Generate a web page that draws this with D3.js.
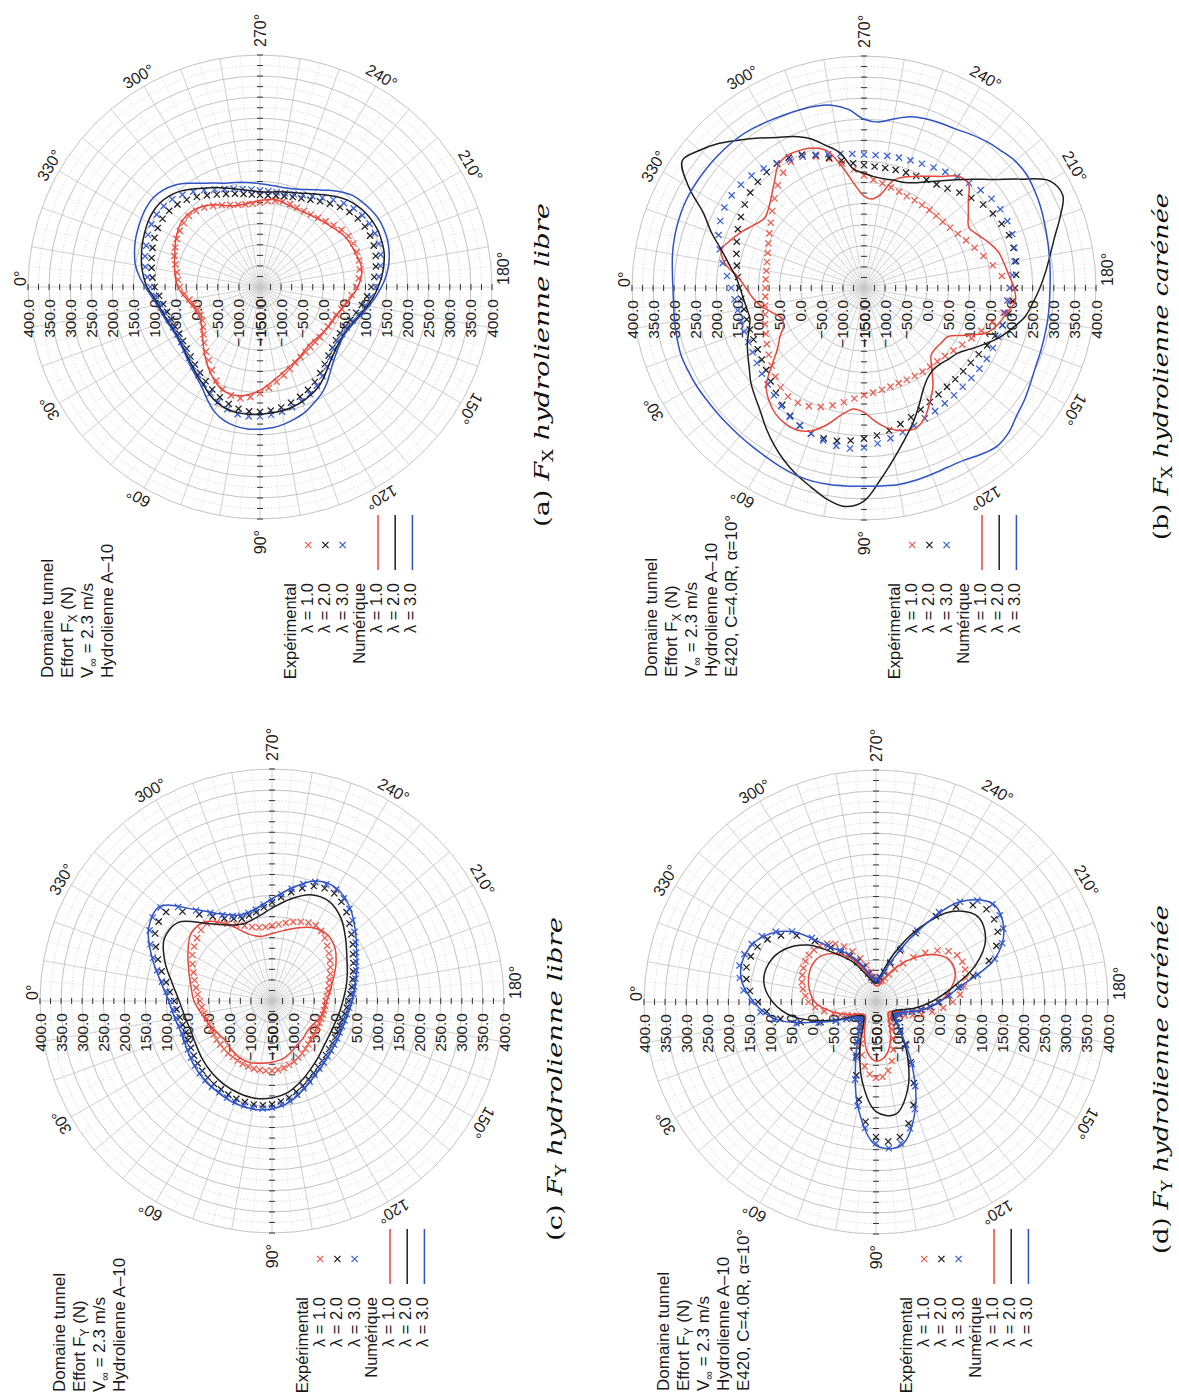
<!DOCTYPE html>
<html><head><meta charset="utf-8">
<script src="https://cdn.jsdelivr.net/npm/d3@7"></script>
<style>body{margin:0;background:#fff}svg{display:block}</style>
</head><body>
<svg id="chart" width="1179" height="1398"></svg>
<script>
// ---------- radial / angular axes ----------
const radialDomain = [-150, 400];
const ringValues = [-125,-100,-75,-50,-25,0,25,50,75,100,125,150,175,200,225,250,275,300,325,350,375,400];
const radialLabelValues = [-150,-100,-50,0,50,100,150,200,250,300,350,400];
const angleLabelValues = [0,30,60,90,120,150,180,210,240,270,300,330];
const legendExpLabels = ["λ = 1.0","λ = 2.0","λ = 3.0"];
const legendNumLabels = ["λ = 1.0","λ = 2.0","λ = 3.0"];

// ---------- data : values (N), i-th value at i*360/n degrees ----------
// (a) Fx hydrolienne libre
const aExp1 = [40,30,20,13,8,6,8,15,25,37,50,62,78,95,108,116,118,112,102,90,78,67,57,48,42,38,36,35,35,35,36,38,42,50,58,68,78,85,90,93,94,94,92,86,78,70,64,60,58,58,59,60,58,54,50,48,49,52,57,64,72,80,86,88,86,82,78,72,66,58,50,45];
const aExp2 = [100,90,83,78,74,72,71,73,77,83,90,98,108,118,128,137,143,146,146,144,140,134,127,119,110,99,89,80,74,70,69,72,78,86,95,105,114,122,129,134,137,138,137,133,127,118,108,98,89,82,77,73,70,68,68,70,74,79,85,92,101,111,120,127,131,132,130,126,121,116,111,106];
const aExp3 = [110,98,90,84,80,77,76,78,82,88,96,105,116,128,140,150,156,158,157,154,150,145,138,130,120,108,96,86,79,75,74,77,84,93,103,114,124,133,140,146,150,151,150,146,140,131,120,108,98,90,84,80,78,78,79,82,86,91,97,105,115,126,136,144,148,149,147,143,137,132,126,118];
const aNum1 = [45,25,12,12,28,55,85,110,112,95,70,52,40,30,32,38,44,60,82,95,90,85,72,62,55,55,60,55,50,55,75,90,92,80,65,55];
const aNum2 = [118,104,95,88,84,80,78,80,84,90,98,108,118,132,143,150,153,153,152,150,148,145,140,133,125,113,100,90,83,79,78,81,88,97,108,120,130,140,148,155,158,160,159,156,150,142,130,117,105,95,88,83,79,76,76,79,84,91,100,110,120,133,146,155,160,160,157,152,147,141,135,127];
const aNum3 = [122,108,98,91,86,82,80,82,86,93,102,112,125,145,165,178,185,188,187,185,180,173,165,153,142,127,110,97,88,82,80,83,90,100,112,125,138,150,160,167,172,174,174,170,165,158,145,130,116,105,97,93,92,93,95,98,102,106,112,122,134,150,165,175,180,179,175,170,165,158,150,137];

// (b) Fx hydrolienne carénée
const bExp1 = [84,85,88,93,100,107,116,126,136,147,158,164,164,159,150,138,125,113,104,99,95,92,90,90,91,92,94,96,101,109,119,131,146,165,186,196,195,178,160,143,129,117,107,99,94,92,91,90,90,90,93,97,102,108,117,132,150,167,182,194,196,184,168,150,134,120,109,100,93,88,85,84];
const bExp2 = [146,142,139,138,138,139,141,146,153,163,175,188,200,210,217,219,218,213,207,201,193,184,176,168,162,158,156,156,157,159,164,172,181,190,198,204,208,212,216,217,216,210,203,195,182,170,158,150,146,143,141,140,139,139,141,147,157,170,185,199,207,210,209,206,202,195,187,180,171,163,156,150];
const bExp3 = [165,158,154,152,152,153,155,160,166,173,182,192,202,210,217,224,230,232,228,220,212,204,197,191,187,184,182,181,182,184,186,187,188,189,189,191,196,203,212,219,224,225,223,219,211,202,194,186,180,175,172,170,168,166,166,169,173,178,186,194,202,211,220,227,231,233,232,226,217,204,190,176];
const bNum1 = [130,115,98,75,58,60,80,100,135,178,200,215,222,222,210,185,155,138,145,168,188,200,205,190,162,135,100,75,72,75,80,115,160,180,193,210,206,195,187,180,165,148,137,152,173,200,196,173,156,142,130,113,75,62,68,95,140,186,203,210,213,205,180,160,145,138,150,168,185,200,185,150];
const bNum2 = [144,137,132,130,140,155,168,182,200,215,232,255,278,300,320,338,358,370,355,305,260,222,190,158,130,112,104,105,112,120,140,165,192,215,238,252,267,282,298,318,345,370,358,300,250,215,185,160,140,125,117,115,113,115,122,133,175,200,227,246,262,284,308,335,358,376,330,270,235,200,175,155];
const bNum3 = [303,303,306,309,312,311,310,308,307,307,308,310,313,318,322,324,323,321,320,321,323,322,320,319,322,332,340,335,322,314,305,298,295,293,292,291,291,293,296,300,305,311,316,320,318,310,303,294,285,281,277,270,257,245,250,275,290,296,299,302,306,311,315,317,318,319,320,320,318,315,311,306];

// (c) Fy hydrolienne libre
const cExp1 = [21,17,13,10,9,9,9,10,10,11,12,12,13,14,15,16,16,16,15,14,11,7,3,-2,-7,-12,-16,-20,-22,-24,-25,-26,-26,-25,-25,-24,-23,-20,-15,-10,-5,3,10,18,26,35,45,53,57,55,50,44,38,32,28,26,27,32,40,50,62,78,90,88,82,75,68,58,48,40,33,27];
const cExp2 = [82,77,72,69,68,70,72,76,80,84,87,90,92,95,97,98,99,98,95,89,83,73,64,55,47,41,35,31,27,25,23,22,22,23,25,28,32,37,42,48,55,63,72,84,96,110,125,137,145,145,140,127,112,97,84,73,64,60,58,65,76,95,118,150,178,178,170,154,138,121,105,93];
const cExp3 = [90,85,80,77,75,77,80,84,88,92,95,98,100,103,105,106,107,106,103,97,90,80,70,61,52,46,40,36,32,30,28,27,27,28,30,34,38,43,48,55,62,70,80,92,105,120,135,147,155,155,150,137,120,104,90,79,70,66,65,72,85,105,130,165,195,195,185,168,150,132,115,101];
const cNum1 = [35,20,10,0,-5,0,5,5,0,-5,-10,-20,-30,-35,-40,-38,-30,-25,-20,-10,5,25,45,55,50,35,20,10,5,20,60,95,100,80,60,45];
const cNum2 = [70,60,55,58,65,72,78,82,84,80,70,52,35,22,12,8,8,12,18,28,40,55,78,105,122,118,95,70,52,45,58,90,140,145,120,90];
const cNum3 = [95,84,78,82,90,97,102,108,110,106,93,72,54,42,34,30,29,32,40,50,64,82,108,138,158,153,122,92,72,67,88,133,198,188,153,118];

// (d) Fy hydrolienne carénée
const dExp1 = [10,-5,-25,-45,-60,-75,-85,-92,-97,-100,-98,-92,-82,-65,-45,-20,5,22,30,28,15,-5,-30,-55,-75,-88,-96,-100,-100,-96,-88,-75,-58,-38,-15,10,32,50,62,70,75,76,72,60,40,15,-12,-38,-60,-78,-90,-97,-100,-100,-97,-90,-78,-60,-40,-18,2,18,30,38,42,44,43,40,36,32,26,18];
const dExp2 = [130,110,80,35,-10,-45,-70,-85,-95,-98,-95,-85,-70,-45,-15,30,85,135,170,182,175,148,110,62,15,-28,-62,-82,-93,-97,-95,-90,-80,-62,-42,-22,-3,20,48,88,135,165,183,192,192,175,145,98,38,-15,-52,-77,-92,-99,-100,-98,-91,-80,-63,-45,-25,-5,18,55,95,125,147,160,166,168,162,150];
const dExp3 = [145,125,95,45,-5,-45,-70,-85,-95,-98,-95,-85,-70,-45,-10,40,100,150,185,198,190,160,120,70,20,-25,-60,-80,-92,-97,-95,-90,-80,-62,-40,-20,0,25,55,100,150,180,198,208,210,190,160,110,45,-10,-50,-75,-90,-98,-100,-98,-90,-78,-60,-40,-20,0,25,65,110,140,162,175,182,185,178,165];
const dNum1 = [-5,-35,-65,-90,-105,-110,-100,-70,-30,-10,-20,-50,-85,-105,-112,-105,-80,-40,0,30,50,50,25,-15,-55,-90,-110,-112,-100,-70,-30,0,20,25,20,10];
const dNum2 = [95,50,-20,-75,-100,-105,-90,-40,40,110,120,70,0,-60,-95,-105,-95,-60,-20,30,100,150,165,130,50,-30,-85,-105,-100,-80,-40,0,60,100,120,120];
const dNum3 = [140,90,-10,-70,-95,-95,-70,-10,100,190,195,122,20,-60,-90,-95,-80,-40,0,50,150,200,212,160,40,-50,-90,-100,-90,-60,-20,20,110,160,180,175];

// ---------- styles ----------
const RED = "#e8463b", BLACK = "#1e1e1e", BLUE = "#2f52c4";
const REDM = "#ec5a4c", BLUEM = "#3a5fd6";
const SANS = "'Liberation Sans', Arial, Helvetica, sans-serif";
const SERIF = "'DejaVu Serif', 'Liberation Serif', serif";

const panels = [
  {cx:1111, cy:260, comp:"X", tunnelExtra:false, exp:[aExp1,aExp2,aExp3], num:[aNum1,aNum2,aNum3],
   titleX:720, titleY:53, legX:815, legY:296, mkX:853, capX0:871, capY:549, capLetter:"(a)", capWord:"libre", capLen:324},
  {cx:1110, cy:864, comp:"X", tunnelExtra:true, exp:[bExp1,bExp2,bExp3], num:[bNum1,bNum2,bNum3],
   titleX:721, titleY:657, legX:815, legY:900, mkX:853, capX0:858, capY:1168, capLetter:"(b)", capWord:"carénée", capLen:347},
  {cx:397, cy:272, comp:"Y", tunnelExtra:false, exp:[cExp1,cExp2,cExp3], num:[cNum1,cNum2,cNum3],
   titleX:6, titleY:65, legX:101, legY:308, mkX:139, capX0:157, capY:562, capLetter:"(c)", capWord:"libre", capLen:324},
  {cx:396, cy:876, comp:"Y", tunnelExtra:true, exp:[dExp1,dExp2,dExp3], num:[dNum1,dNum2,dNum3],
   titleX:7, titleY:669, legX:101, legY:912, mkX:139, capX0:144, capY:1168, capLetter:"(d)", capWord:"carénée", capLen:349}
];

const H = 1398, R = 232;
const svg = d3.select("#chart");
const root = svg.append("g").attr("transform", `translate(0,${H}) rotate(-90)`);
const r = d3.scaleLinear().domain(radialDomain).range([0, R]);
const rad = a => a * Math.PI / 180;
const pos = (a, v) => [-r(v) * Math.sin(rad(a)), -r(v) * Math.cos(rad(a))];

function cross(sel, x, y, s, color) {
  sel.append("path")
    .attr("d", `M${x-s},${y-s}L${x+s},${y+s}M${x-s},${y+s}L${x+s},${y-s}`)
    .attr("stroke", color).attr("stroke-width", 1.25).attr("fill", "none");
}

function drawPanel(p) {
  const g = root.append("g").attr("transform", `translate(${p.cx},${p.cy})`);
  const grid = g.append("g");
  d3.range(0, 360, 5).forEach(a => {
    const [x, y] = pos(a, 400);
    grid.append("line").attr("x1", 0).attr("y1", 0).attr("x2", x).attr("y2", y)
      .attr("stroke", a % 10 === 0 ? "#c4c4c4" : "#d2d2d2")
      .attr("stroke-width", a % 10 === 0 ? 0.8 : 0.7)
      .attr("stroke-dasharray", a % 10 === 0 ? null : "1.2,2");
  });
  ringValues.forEach(v => {
    grid.append("circle").attr("r", r(v)).attr("fill", "none")
      .attr("stroke", v % 50 === 0 ? "#bcbcbc" : "#cdcdcd")
      .attr("stroke-width", v % 50 === 0 ? 0.9 : 0.8)
      .attr("stroke-dasharray", v % 50 === 0 ? null : "1.3,2");
  });
  ringValues.forEach(v => {
    const d = r(v);
    [[-3, -d, 3, -d], [-3, d, 3, d], [-d, -3, -d, 3], [d, -3, d, 3]].forEach(t => {
      grid.append("line").attr("x1", t[0]).attr("y1", t[1]).attr("x2", t[2]).attr("y2", t[3])
        .attr("stroke", "#333").attr("stroke-width", 1);
    });
  });
  radialLabelValues.forEach(v => {
    [-1, 1].forEach(sg => {
      g.append("text").attr("x", -12).attr("y", sg * r(v))
        .attr("text-anchor", "end").attr("dominant-baseline", "central")
        .attr("font-family", SANS).attr("font-size", 15.5).attr("fill", "#222")
        .text(v < 0 ? "\u2212" + Math.abs(v).toFixed(1) : v.toFixed(1));
    });
  });
  angleLabelValues.forEach(a => {
    const t = g.append("text").attr("font-family", SANS).attr("font-size", 16).attr("fill", "#222").text(a + "°");
    if (a === 0) t.attr("x", 1).attr("y", -R - 2).attr("text-anchor", "start");
    else if (a === 180) t.attr("x", 2).attr("y", R + 17).attr("text-anchor", "start");
    else if (a === 90) t.attr("x", -R - 11).attr("y", 0).attr("text-anchor", "end").attr("dominant-baseline", "central");
    else if (a === 270) t.attr("x", R + 8).attr("y", 0).attr("text-anchor", "start").attr("dominant-baseline", "central");
    else {
      const rr = R + 11;
      const x = -rr * Math.sin(rad(a)), y = -rr * Math.cos(rad(a));
      t.attr("text-anchor", "middle").attr("dominant-baseline", "central")
       .attr("transform", `translate(${x},${y}) rotate(${-a})`);
    }
  });
  const mColors = [REDM, BLACK, BLUEM];
  p.exp.forEach((arr, k) => {
    const mg = g.append("g");
    arr.forEach((v, i) => {
      const a = i * 360 / arr.length;
      const [x, y] = pos(a, v);
      cross(mg, x, y, 3.1, mColors[k]);
    });
  });
  const lColors = [RED, BLACK, BLUE];
  const line = d3.lineRadial().curve(d3.curveCatmullRomClosed.alpha(0.5));
  p.num.forEach((arr, k) => {
    const pts = arr.map((v, i) => [-rad(i * 360 / arr.length), r(v)]);
    g.append("path").attr("d", line(pts)).attr("fill", "none")
      .attr("stroke", lColors[k]).attr("stroke-width", 1.5);
  });

  // ---- title block ----
  const fs = 17, lh = 20;
  const tb = root.append("g").attr("font-family", SANS).attr("font-size", fs).attr("fill", "#1a1a1a");
  tb.append("text").attr("x", p.titleX).attr("y", p.titleY).text("Domaine tunnel");
  const t2 = tb.append("text").attr("x", p.titleX).attr("y", p.titleY + lh);
  t2.append("tspan").text("Effort F");
  t2.append("tspan").attr("font-size", 12).attr("dy", 4).text(p.comp);
  t2.append("tspan").attr("dy", -4).text(" (N)");
  const t3 = tb.append("text").attr("x", p.titleX).attr("y", p.titleY + 2 * lh);
  t3.append("tspan").text("V");
  t3.append("tspan").attr("font-size", 12).attr("dy", 4).text("∞");
  t3.append("tspan").attr("dy", -4).text(" = 2.3 m/s");
  tb.append("text").attr("x", p.titleX).attr("y", p.titleY + 3 * lh).text("Hydrolienne A\u201310");
  if (p.tunnelExtra) tb.append("text").attr("x", p.titleX).attr("y", p.titleY + 4 * lh).text("E420, C=4.0R, α=10°");

  // ---- legend ----
  const lg = root.append("g").attr("font-family", SANS).attr("font-size", 16.5).attr("fill", "#1a1a1a");
  const rowH = 17.2;
  const rows = ["Expérimental"].concat(legendExpLabels, ["Numérique"], legendNumLabels);
  rows.forEach((txt, i) => {
    lg.append("text").attr("x", p.legX).attr("y", p.legY + i * rowH).attr("text-anchor", "end").text(txt);
  });
  [REDM, BLACK, BLUEM].forEach((c, k) => cross(lg, p.mkX, p.legY + (k + 1) * rowH - 5, 3.1, c));
  [RED, BLACK, BLUE].forEach((c, k) => {
    const y = p.legY + (k + 5) * rowH - 4;
    lg.append("line").attr("x1", p.mkX - 25).attr("x2", p.mkX + 30).attr("y1", y).attr("y2", y)
      .attr("stroke", c).attr("stroke-width", 1.5);
  });

  // ---- caption (stretched to the reference length) ----
  const capG = root.append("g").attr("transform", `translate(${p.capX0},${p.capY})`);
  const cap = capG.append("text").attr("x", 0).attr("y", 0)
    .attr("font-family", SERIF).attr("font-size", 21).attr("fill", "#111");
  cap.append("tspan").text(p.capLetter + "  ");
  cap.append("tspan").attr("font-style", "italic").text("F");
  cap.append("tspan").attr("font-size", 14).attr("dy", 4).text(p.comp);
  cap.append("tspan").attr("dy", -4).attr("font-style", "italic").text("  hydrolienne " + p.capWord);
  const w = cap.node().getComputedTextLength();
  capG.attr("transform", `translate(${p.capX0},${p.capY}) scale(${p.capLen / w},1)`);
}

panels.forEach(drawPanel);
</script>
</body></html>
